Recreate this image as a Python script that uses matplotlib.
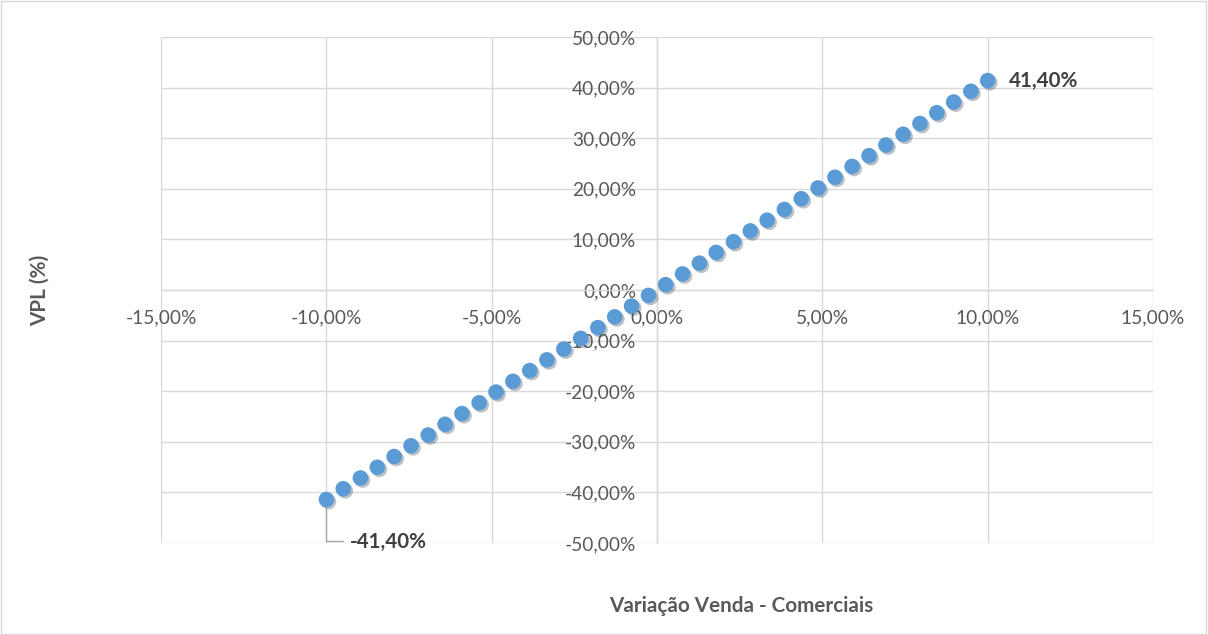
import matplotlib.pyplot as plt
import matplotlib.patheffects as pe
from matplotlib.patches import Rectangle
from matplotlib.ticker import FuncFormatter, MultipleLocator

# variação de venda (%) e VPL resultante (%)
variacao = [-10.00, -9.49, -8.97, -8.46, -7.95, -7.44, -6.92, -6.41, -5.90, -5.38,
            -4.87, -4.36, -3.85, -3.33, -2.82, -2.31, -1.79, -1.28, -0.77, -0.26,
            0.26, 0.77, 1.28, 1.79, 2.31, 2.82, 3.33, 3.85, 4.36, 4.87,
            5.38, 5.90, 6.41, 6.92, 7.44, 7.95, 8.46, 8.97, 9.49, 10.00]
vpl = [-41.40, -39.28, -37.15, -35.03, -32.91, -30.78, -28.66, -26.54, -24.42, -22.29,
       -20.17, -18.05, -15.92, -13.80, -11.68, -9.55, -7.43, -5.31, -3.18, -1.06,
       1.06, 3.18, 5.31, 7.43, 9.55, 11.68, 13.80, 15.92, 18.05, 20.17,
       22.29, 24.42, 26.54, 28.66, 30.78, 32.91, 35.03, 37.15, 39.28, 41.40]

cinza_txt = '#595959'
cinza_grade = '#d9d9d9'
azul = '#5b9bd5'

plt.rcParams['font.family'] = ['Lato', 'DejaVu Sans']

def pct(v, pos=None):
    return f'{v:.2f}%'.replace('.', ',')

fig = plt.figure(figsize=(12.08, 6.35), dpi=100)
ax = fig.add_axes([0.1333, 0.1449, 0.8212, 0.7968])

ax.set_xlim(-15, 15)
ax.set_ylim(-50, 50)
ax.xaxis.set_major_locator(MultipleLocator(5))
ax.yaxis.set_major_locator(MultipleLocator(10))
ax.xaxis.set_major_formatter(FuncFormatter(pct))
ax.yaxis.set_major_formatter(FuncFormatter(pct))
ax.grid(True, color=cinza_grade, linewidth=1)
ax.set_axisbelow(True)

for s in ['top', 'right']:
    ax.spines[s].set_visible(False)
ax.spines['left'].set_position('zero')
ax.spines['bottom'].set_position('zero')
for s in ['left', 'bottom']:
    ax.spines[s].set_color(cinza_grade)
    ax.spines[s].set_linewidth(1)
ax.tick_params(length=0, labelsize=13.8, labelcolor=cinza_txt)
ax.tick_params(axis='x', pad=14)
ax.tick_params(axis='y', pad=15)

ax.scatter(variacao, vpl, s=125, color=azul, zorder=3, linewidths=0,
           path_effects=[pe.SimplePatchShadow(offset=(1.5, -1.5), alpha=0.3), pe.Normal()])

# rótulos dos extremos
ax.annotate(pct(vpl[-1]), xy=(variacao[-1], vpl[-1]), xytext=(21, 0),
            textcoords='offset pixels', ha='left', va='center',
            fontsize=14.9, fontweight='bold', color='#404040')
ax.annotate(pct(vpl[0]), xy=(variacao[0], vpl[0]), xytext=(24, -42),
            textcoords='offset pixels', ha='left', va='center',
            fontsize=14.9, fontweight='bold', color='#404040',
            arrowprops=dict(arrowstyle='-', color='#a6a6a6', lw=1,
                            connectionstyle='angle,angleA=0,angleB=90,rad=0',
                            shrinkA=3, shrinkB=6))

fig.text(0.614, 0.0457, 'Variação Venda - Comerciais', ha='center', va='center',
         fontsize=14.9, fontweight='bold', color=cinza_txt)
fig.text(0.033, 0.543, 'VPL (%)', ha='center', va='center', rotation=90,
         fontsize=14.9, fontweight='bold', color=cinza_txt)

fig.patches.append(Rectangle((0.001, 0.002), 0.997, 0.996, transform=fig.transFigure,
                             fill=False, edgecolor=cinza_grade, linewidth=1))

fig.savefig('out.png', dpi=100, facecolor='white')
